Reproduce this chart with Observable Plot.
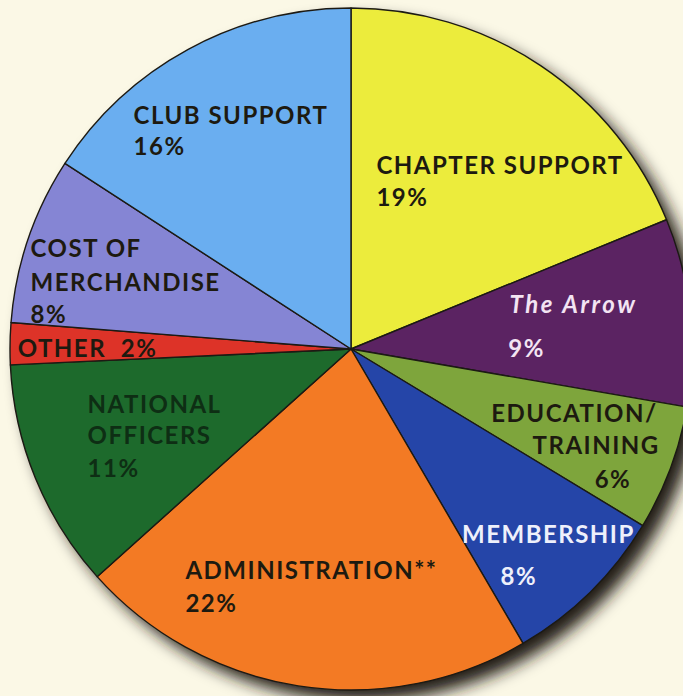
<!DOCTYPE html>
<html><head><meta charset="utf-8">
<script src="https://cdn.jsdelivr.net/npm/d3@7"></script>
<script src="https://cdn.jsdelivr.net/npm/@observablehq/plot@0.6"></script>
<style>
html,body{margin:0;padding:0;background:#fbf8e6;overflow:hidden;}
#chart svg{display:block;background:#fbf8e6;}
</style>
</head><body><div id="chart"></div>
<script>
// ---- data ----
const categories = ["CHAPTER SUPPORT", "The Arrow", "EDUCATION/TRAINING", "MEMBERSHIP",
  "ADMINISTRATION**", "NATIONAL OFFICERS", "OTHER", "COST OF MERCHANDISE", "CLUB SUPPORT"];
const values = [19, 9, 6, 8, 22, 11, 2, 8, 16];
const sliceColors = ["#ecec3c", "#5b2362", "#7ea53c", "#2545a8",
  "#f37a24", "#1d6a2c", "#dd3328", "#8585d4", "#6aaef0"];

// label lines (text shown in each slice)
const labelText = [
  ["CHAPTER SUPPORT", "19%"],
  ["The Arrow", "9%"],
  ["EDUCATION/", "TRAINING", "6%"],
  ["MEMBERSHIP", "8%"],
  ["ADMINISTRATION**", "22%"],
  ["NATIONAL", "OFFICERS", "11%"],
  ["OTHER  2%"],
  ["COST OF", "MERCHANDISE", "8%"],
  ["CLUB SUPPORT", "16%"]
];
// layout: label line anchors in pie units (centre 0,0; radius 1)
const labelPos = [
  [[0.073, 0.516], [0.073, 0.422]],
  [[0.463, 0.106], [0.460, -0.023]],
  [[0.410, -0.214], [0.531, -0.305], [0.713, -0.405]],
  [[0.324, -0.566], [0.437, -0.692]],
  [[-0.487, -0.672], [-0.487, -0.771]],
  [[-0.774, -0.185], [-0.774, -0.276], [-0.774, -0.375]],
  [[-0.979, -0.023]],
  [[-0.941, 0.270], [-0.941, 0.173], [-0.941, 0.079]],
  [[-0.639, 0.660], [-0.639, 0.569]]
];
const labelStyle = [
  ["dark", "dark"], ["arrow", "light"], ["dark", "dark", "dark"], ["white", "white"],
  ["dark", "dark"], ["green", "green", "green"], ["dark"], ["dark", "dark", "dark"], ["dark", "dark"]
];

const slices = categories.map((c, i) => ({category: c, value: values[i], color: sliceColors[i]}));
const arcs = d3.pie().sort(null).value(d => d.value)(slices);

const lines = [];
labelText.forEach((ls, i) => ls.forEach((t, j) => lines.push({
  text: t, x: labelPos[i][j][0], y: labelPos[i][j][1], style: labelStyle[i][j]
})));

function pieMark(index, scales) {
  const cx = scales.x(0), cy = scales.y(0), r = scales.x(1) - scales.x(0);
  const g = d3.create("svg:g");
  const defs = g.append("defs");
  const f = defs.append("filter").attr("id", "pieShadow")
    .attr("x", "-20%").attr("y", "-20%").attr("width", "140%").attr("height", "140%");
  f.append("feGaussianBlur").attr("stdDeviation", 8);
  g.append("circle").attr("cx", cx + 11).attr("cy", cy + 11).attr("r", r)
    .attr("fill", "#241a12").attr("filter", "url(#pieShadow)");
  const arc = d3.arc().innerRadius(0).outerRadius(r);
  g.append("g").attr("transform", `translate(${cx},${cy})`)
    .selectAll("path").data(arcs).join("path")
    .attr("d", arc)
    .attr("fill", d => d.data.color)
    .attr("stroke", "#1c1a14").attr("stroke-width", 1.4).attr("stroke-linejoin", "round");
  return g.node();
}

const common = {x: "x", y: "y", text: "text", textAnchor: "start", lineAnchor: "bottom",
  fontSize: 24, fontFamily: "Lato, 'Open Sans', sans-serif"};

const plot = Plot.plot({
  width: 683, height: 696, margin: 0,
  style: {background: "#fbf8e6", overflow: "hidden"},
  x: {domain: [-1, 1], range: [10, 692], axis: null},
  y: {domain: [-1, 1], range: [690, 8], axis: null},
  marks: [
    pieMark,
    Plot.text(lines.filter(d => d.style === "dark"), {...common, fill: "#1d1a10", fontWeight: 700}),
    Plot.text(lines.filter(d => d.style === "green"), {...common, fill: "#0e2e14", fontWeight: 700}),
    Plot.text(lines.filter(d => d.style === "white"), {...common, fill: "#eef0fb", fontWeight: 700}),
    Plot.text(lines.filter(d => d.style === "arrow"), {...common, fill: "#f3e4f3", fontWeight: 700, fontStyle: "italic"}),
    Plot.text(lines.filter(d => d.style === "light"), {...common, fill: "#f3e4f3", fontWeight: 700})
  ]
});
d3.select(plot).selectAll("text").style("letter-spacing", "1.5px");
d3.select(plot).selectAll("text").filter(function() { return this.textContent === "The Arrow"; })
  .style("letter-spacing", "2.6px");
document.getElementById("chart").append(plot);
</script>
</body></html>
